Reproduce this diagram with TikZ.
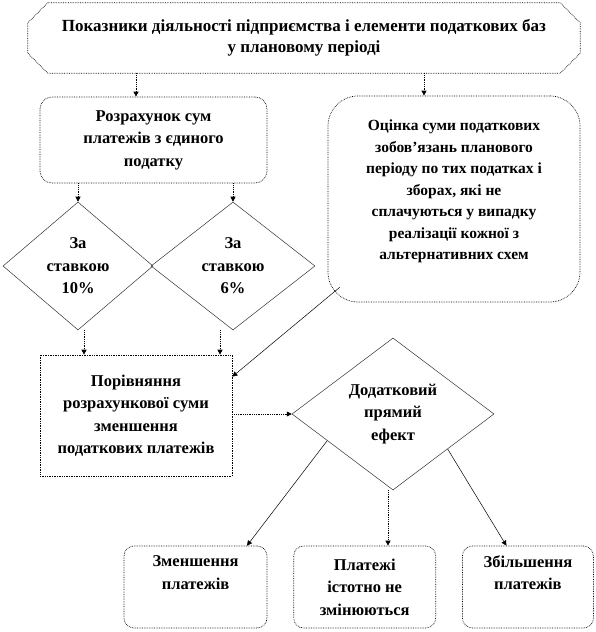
\documentclass[tikz,border=0pt]{standalone}
\usepackage{fontspec}
\setmainfont{Liberation Serif}
\usetikzlibrary{positioning,arrows.meta,shapes.geometric,calc}

\begin{document}
\begin{tikzpicture}[
    x=1pt, y=1pt,
    font=\fontsize{16.5}{22.5}\selectfont\bfseries,
    node distance=26pt,
    outline/.style={draw=black, densely dotted, line width=0.7pt},
    block/.style={rectangle, rounded corners=12pt, outline, align=center, inner sep=2pt},
    headbox/.style={rectangle, align=center, inner sep=0pt, minimum width=552pt, minimum height=70pt,
        font=\fontsize{17}{21}\selectfont\bfseries},
    choice/.style={diamond, draw=black!80, line width=0.5pt, align=center, inner sep=0pt},
    outcome/.style={block, rounded corners=10pt, minimum height=82pt},
    flow/.style={densely dotted, line width=0.8pt, -{Triangle[length=5pt,width=5pt]}},
    link/.style={line width=0.5pt, -{Triangle[length=5pt,width=5pt]}},
]
\useasboundingbox (0,0) rectangle (595,632);

% top and second row
\node[headbox] (base) at (304,594) {Показники діяльності підприємства і елементи податкових баз\\у плановому періоді};
\draw[outline] ([xshift=20pt]base.north west) -- ([xshift=-20pt]base.north east)
    -- ([yshift=-20pt]base.north east) -- ([yshift=20pt]base.south east)
    -- ([xshift=-20pt]base.south east) -- ([xshift=20pt]base.south west)
    -- ([yshift=20pt]base.south west) -- ([yshift=-20pt]base.north west) -- cycle;
\node[block, minimum width=227pt, minimum height=86pt] (calc) at (153.5,492) {Розрахунок сум\\платежів з єдиного\\податку};
\node[block, rounded corners=30pt, minimum width=252pt, minimum height=206pt,
    font=\fontsize{15.5}{21.5}\selectfont\bfseries] (est) at (454,433)
    {Оцінка суми податкових\\зобов’язань планового\\періоду по тих податках і\\зборах, які не\\сплачуються у випадку\\реалізації кожної з\\альтернативних схем\\[-10pt]\strut};

% rates
\node[choice, minimum width=150pt, minimum height=128pt, aspect=1.2] (r10) at (78,366) {За\\ставкою\\10\%};
\node[choice, minimum width=164pt, minimum height=128pt, aspect=1.2] (r6) at (233,366) {За\\ставкою\\6\%};

% comparison and effect
\node[block, rounded corners=0pt, minimum width=192pt, minimum height=121pt] (cmp) at (136,216.5)
    {Порівняння\\розрахункової суми\\зменшення\\податкових платежів};
\node[choice, minimum width=202pt, minimum height=152pt, aspect=1.33] (eff) at (393,218) {Додатковий\\прямий\\ефект};

% outcomes
\node[outcome, minimum width=143pt] (dec) at (195.5,45) {Зменшення\\платежів\\\strut};
\node[outcome, minimum width=142pt, right=of dec] (same) {Платежі\\істотно не\\змінюються};
\node[outcome, minimum width=131pt, right=of same] (inc) {Збільшення\\платежів\\\strut};

\draw[flow] ([xshift=-17.5pt]calc.north |- base.south) -- ([xshift=-17.5pt]calc.north);
\draw[flow] ([xshift=-30pt]est.north |- base.south) -- ([xshift=-30pt]est.north);
\draw[flow] (calc.south -| r10.north) -- (r10.north);
\draw[flow] (calc.south -| r6.north) -- (r6.north);
\draw[flow] ([xshift=6pt]r10.south) -- ([xshift=6pt]r10.south |- cmp.north);
\draw[flow] ([xshift=-13pt]r6.south) -- ([xshift=-13pt]r6.south |- cmp.north);
\draw[link] ($(est.south west)+(12,15)$) -- ([yshift=-22pt]cmp.north east);
\draw[flow] (cmp.east |- eff.west) -- (eff.west);
\draw[link] ($(eff.west)!0.35!(eff.south)$) -- ([xshift=51.5pt]dec.north);
\draw[flow] ([xshift=-5pt]eff.south) -- ([xshift=-5pt]eff.south |- same.north);
\draw[link] ($(eff.south)!0.54!(eff.east)$) -- ([xshift=-21.5pt]inc.north);
\end{tikzpicture}
\end{document}
